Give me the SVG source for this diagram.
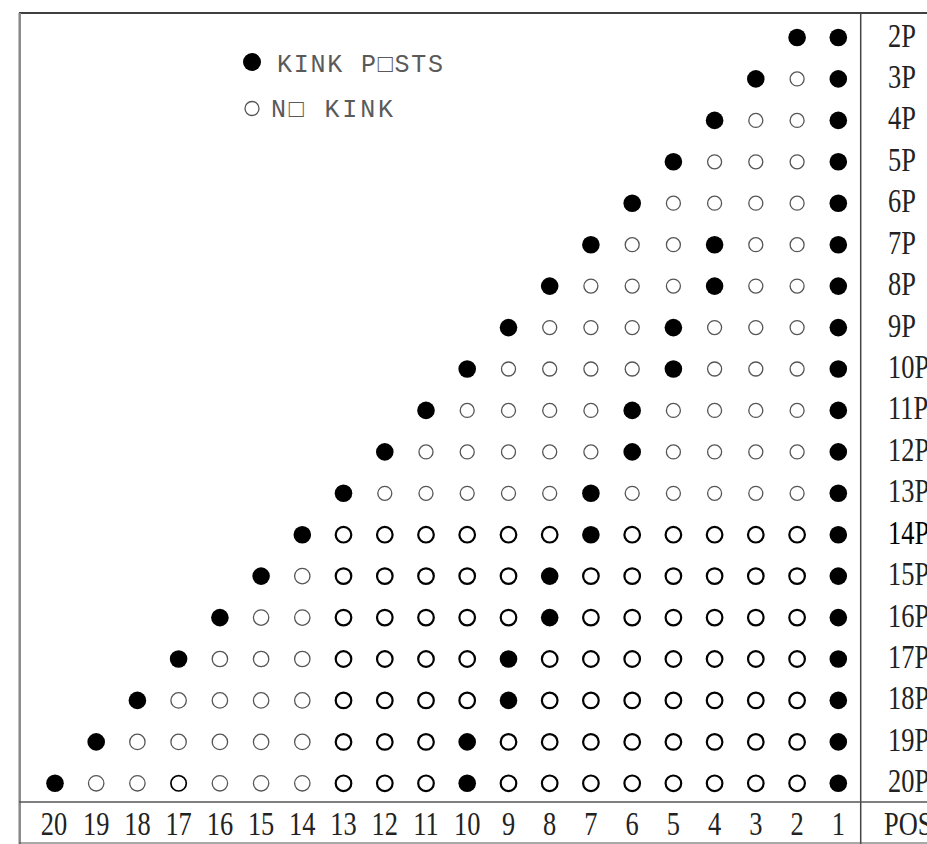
<svg xmlns="http://www.w3.org/2000/svg" width="927" height="844" viewBox="0 0 927 844">
<style>
.f{fill:#000}
.t{fill:none;stroke:#555;stroke-width:1.3}
.k{fill:none;stroke:#000;stroke-width:2.2}
.lab{font-family:"Liberation Serif","Times New Roman",serif;font-size:33px;fill:#222}
.num{font-family:"Liberation Serif","Times New Roman",serif;font-size:33px;fill:#222;text-anchor:middle}
.leg{font-family:"Liberation Mono","DejaVu Sans Mono",monospace;font-size:25px;fill:#5a5a5a}
.frame{stroke:#000;fill:none}
</style>
<rect width="927" height="844" fill="#fff"/>
<g id="frame">
<line x1="19" y1="13" x2="927" y2="13" class="frame" stroke-width="1.4"/>
<line x1="19.7" y1="13" x2="19.7" y2="844" stroke="#888" stroke-width="2.5"/>
<line x1="860.7" y1="13" x2="860.7" y2="844" stroke="#444" stroke-width="1.5"/>
<line x1="19" y1="802" x2="927" y2="802" stroke="#555" stroke-width="1.5"/>
<line x1="19" y1="843" x2="927" y2="843" stroke="#555" stroke-width="1.2"/>
</g>
<g id="legend">
<circle cx="252" cy="62" r="9" class="f"/>
<text class="leg" x="277" y="71.5" textLength="166" lengthAdjust="spacing">KINK P□STS</text>
<circle cx="252" cy="108.5" r="7" class="t"/>
<text class="leg" x="271" y="117" textLength="122" lengthAdjust="spacing">N□ KINK</text>
</g>
<g id="row2"><circle cx="838.3" cy="37.5" r="8.8" class="f"/><circle cx="797.1" cy="37.5" r="8.8" class="f"/></g>
<g id="row3"><circle cx="838.3" cy="78.9" r="8.8" class="f"/><circle cx="797.1" cy="78.9" r="7" class="t"/><circle cx="755.8" cy="78.9" r="8.8" class="f"/></g>
<g id="row4"><circle cx="838.3" cy="120.4" r="8.8" class="f"/><circle cx="797.1" cy="120.4" r="7" class="t"/><circle cx="755.8" cy="120.4" r="7" class="t"/><circle cx="714.6" cy="120.4" r="8.8" class="f"/></g>
<g id="row5"><circle cx="838.3" cy="161.8" r="8.8" class="f"/><circle cx="797.1" cy="161.8" r="7" class="t"/><circle cx="755.8" cy="161.8" r="7" class="t"/><circle cx="714.6" cy="161.8" r="7" class="t"/><circle cx="673.4" cy="161.8" r="8.8" class="f"/></g>
<g id="row6"><circle cx="838.3" cy="203.2" r="8.8" class="f"/><circle cx="797.1" cy="203.2" r="7" class="t"/><circle cx="755.8" cy="203.2" r="7" class="t"/><circle cx="714.6" cy="203.2" r="7" class="t"/><circle cx="673.4" cy="203.2" r="7" class="t"/><circle cx="632.2" cy="203.2" r="8.8" class="f"/></g>
<g id="row7"><circle cx="838.3" cy="244.7" r="8.8" class="f"/><circle cx="797.1" cy="244.7" r="7" class="t"/><circle cx="755.8" cy="244.7" r="7" class="t"/><circle cx="714.6" cy="244.7" r="8.8" class="f"/><circle cx="673.4" cy="244.7" r="7" class="t"/><circle cx="632.2" cy="244.7" r="7" class="t"/><circle cx="590.9" cy="244.7" r="8.8" class="f"/></g>
<g id="row8"><circle cx="838.3" cy="286.1" r="8.8" class="f"/><circle cx="797.1" cy="286.1" r="7" class="t"/><circle cx="755.8" cy="286.1" r="7" class="t"/><circle cx="714.6" cy="286.1" r="8.8" class="f"/><circle cx="673.4" cy="286.1" r="7" class="t"/><circle cx="632.2" cy="286.1" r="7" class="t"/><circle cx="590.9" cy="286.1" r="7" class="t"/><circle cx="549.7" cy="286.1" r="8.8" class="f"/></g>
<g id="row9"><circle cx="838.3" cy="327.6" r="8.8" class="f"/><circle cx="797.1" cy="327.6" r="7" class="t"/><circle cx="755.8" cy="327.6" r="7" class="t"/><circle cx="714.6" cy="327.6" r="7" class="t"/><circle cx="673.4" cy="327.6" r="8.8" class="f"/><circle cx="632.2" cy="327.6" r="7" class="t"/><circle cx="590.9" cy="327.6" r="7" class="t"/><circle cx="549.7" cy="327.6" r="7" class="t"/><circle cx="508.5" cy="327.6" r="8.8" class="f"/></g>
<g id="row10"><circle cx="838.3" cy="369" r="8.8" class="f"/><circle cx="797.1" cy="369" r="7" class="t"/><circle cx="755.8" cy="369" r="7" class="t"/><circle cx="714.6" cy="369" r="7" class="t"/><circle cx="673.4" cy="369" r="8.8" class="f"/><circle cx="632.2" cy="369" r="7" class="t"/><circle cx="590.9" cy="369" r="7" class="t"/><circle cx="549.7" cy="369" r="7" class="t"/><circle cx="508.5" cy="369" r="7" class="t"/><circle cx="467.2" cy="369" r="8.8" class="f"/></g>
<g id="row11"><circle cx="838.3" cy="410.4" r="8.8" class="f"/><circle cx="797.1" cy="410.4" r="7" class="t"/><circle cx="755.8" cy="410.4" r="7" class="t"/><circle cx="714.6" cy="410.4" r="7" class="t"/><circle cx="673.4" cy="410.4" r="7" class="t"/><circle cx="632.2" cy="410.4" r="8.8" class="f"/><circle cx="590.9" cy="410.4" r="7" class="t"/><circle cx="549.7" cy="410.4" r="7" class="t"/><circle cx="508.5" cy="410.4" r="7" class="t"/><circle cx="467.2" cy="410.4" r="7" class="t"/><circle cx="426" cy="410.4" r="8.8" class="f"/></g>
<g id="row12"><circle cx="838.3" cy="451.9" r="8.8" class="f"/><circle cx="797.1" cy="451.9" r="7" class="t"/><circle cx="755.8" cy="451.9" r="7" class="t"/><circle cx="714.6" cy="451.9" r="7" class="t"/><circle cx="673.4" cy="451.9" r="7" class="t"/><circle cx="632.2" cy="451.9" r="8.8" class="f"/><circle cx="590.9" cy="451.9" r="7" class="t"/><circle cx="549.7" cy="451.9" r="7" class="t"/><circle cx="508.5" cy="451.9" r="7" class="t"/><circle cx="467.2" cy="451.9" r="7" class="t"/><circle cx="426" cy="451.9" r="7" class="t"/><circle cx="384.8" cy="451.9" r="8.8" class="f"/></g>
<g id="row13"><circle cx="838.3" cy="493.3" r="8.8" class="f"/><circle cx="797.1" cy="493.3" r="7" class="t"/><circle cx="755.8" cy="493.3" r="7" class="t"/><circle cx="714.6" cy="493.3" r="7" class="t"/><circle cx="673.4" cy="493.3" r="7" class="t"/><circle cx="632.2" cy="493.3" r="7" class="t"/><circle cx="590.9" cy="493.3" r="8.8" class="f"/><circle cx="549.7" cy="493.3" r="7" class="t"/><circle cx="508.5" cy="493.3" r="7" class="t"/><circle cx="467.2" cy="493.3" r="7" class="t"/><circle cx="426" cy="493.3" r="7" class="t"/><circle cx="384.8" cy="493.3" r="7" class="t"/><circle cx="343.5" cy="493.3" r="8.8" class="f"/></g>
<g id="row14"><circle cx="838.3" cy="534.7" r="8.8" class="f"/><circle cx="797.1" cy="534.7" r="7.8" class="k"/><circle cx="755.8" cy="534.7" r="7.8" class="k"/><circle cx="714.6" cy="534.7" r="7.8" class="k"/><circle cx="673.4" cy="534.7" r="7.8" class="k"/><circle cx="632.2" cy="534.7" r="7.8" class="k"/><circle cx="590.9" cy="534.7" r="8.8" class="f"/><circle cx="549.7" cy="534.7" r="7.8" class="k"/><circle cx="508.5" cy="534.7" r="7.8" class="k"/><circle cx="467.2" cy="534.7" r="7.8" class="k"/><circle cx="426" cy="534.7" r="7.8" class="k"/><circle cx="384.8" cy="534.7" r="7.8" class="k"/><circle cx="343.5" cy="534.7" r="7.8" class="k"/><circle cx="302.3" cy="534.7" r="8.8" class="f"/></g>
<g id="row15"><circle cx="838.3" cy="576.1" r="8.8" class="f"/><circle cx="797.1" cy="576.1" r="7.8" class="k"/><circle cx="755.8" cy="576.1" r="7.8" class="k"/><circle cx="714.6" cy="576.1" r="7.8" class="k"/><circle cx="673.4" cy="576.1" r="7.8" class="k"/><circle cx="632.2" cy="576.1" r="7.8" class="k"/><circle cx="590.9" cy="576.1" r="7.8" class="k"/><circle cx="549.7" cy="576.1" r="8.8" class="f"/><circle cx="508.5" cy="576.1" r="7.8" class="k"/><circle cx="467.2" cy="576.1" r="7.8" class="k"/><circle cx="426" cy="576.1" r="7.8" class="k"/><circle cx="384.8" cy="576.1" r="7.8" class="k"/><circle cx="343.5" cy="576.1" r="7.8" class="k"/><circle cx="302.3" cy="576.1" r="7.7" class="t"/><circle cx="261.1" cy="576.1" r="8.8" class="f"/></g>
<g id="row16"><circle cx="838.3" cy="617.6" r="8.8" class="f"/><circle cx="797.1" cy="617.6" r="7.8" class="k"/><circle cx="755.8" cy="617.6" r="7.8" class="k"/><circle cx="714.6" cy="617.6" r="7.8" class="k"/><circle cx="673.4" cy="617.6" r="7.8" class="k"/><circle cx="632.2" cy="617.6" r="7.8" class="k"/><circle cx="590.9" cy="617.6" r="7.8" class="k"/><circle cx="549.7" cy="617.6" r="8.8" class="f"/><circle cx="508.5" cy="617.6" r="7.8" class="k"/><circle cx="467.2" cy="617.6" r="7.8" class="k"/><circle cx="426" cy="617.6" r="7.8" class="k"/><circle cx="384.8" cy="617.6" r="7.8" class="k"/><circle cx="343.5" cy="617.6" r="7.8" class="k"/><circle cx="302.3" cy="617.6" r="7.7" class="t"/><circle cx="261.1" cy="617.6" r="7.7" class="t"/><circle cx="219.9" cy="617.6" r="8.8" class="f"/></g>
<g id="row17"><circle cx="838.3" cy="659" r="8.8" class="f"/><circle cx="797.1" cy="659" r="7.8" class="k"/><circle cx="755.8" cy="659" r="7.8" class="k"/><circle cx="714.6" cy="659" r="7.8" class="k"/><circle cx="673.4" cy="659" r="7.8" class="k"/><circle cx="632.2" cy="659" r="7.8" class="k"/><circle cx="590.9" cy="659" r="7.8" class="k"/><circle cx="549.7" cy="659" r="7.8" class="k"/><circle cx="508.5" cy="659" r="8.8" class="f"/><circle cx="467.2" cy="659" r="7.8" class="k"/><circle cx="426" cy="659" r="7.8" class="k"/><circle cx="384.8" cy="659" r="7.8" class="k"/><circle cx="343.5" cy="659" r="7.8" class="k"/><circle cx="302.3" cy="659" r="7.7" class="t"/><circle cx="261.1" cy="659" r="7.7" class="t"/><circle cx="219.9" cy="659" r="7.7" class="t"/><circle cx="178.6" cy="659" r="8.8" class="f"/></g>
<g id="row18"><circle cx="838.3" cy="700.4" r="8.8" class="f"/><circle cx="797.1" cy="700.4" r="7.8" class="k"/><circle cx="755.8" cy="700.4" r="7.8" class="k"/><circle cx="714.6" cy="700.4" r="7.8" class="k"/><circle cx="673.4" cy="700.4" r="7.8" class="k"/><circle cx="632.2" cy="700.4" r="7.8" class="k"/><circle cx="590.9" cy="700.4" r="7.8" class="k"/><circle cx="549.7" cy="700.4" r="7.8" class="k"/><circle cx="508.5" cy="700.4" r="8.8" class="f"/><circle cx="467.2" cy="700.4" r="7.8" class="k"/><circle cx="426" cy="700.4" r="7.8" class="k"/><circle cx="384.8" cy="700.4" r="7.8" class="k"/><circle cx="343.5" cy="700.4" r="7.8" class="k"/><circle cx="302.3" cy="700.4" r="7.7" class="t"/><circle cx="261.1" cy="700.4" r="7.7" class="t"/><circle cx="219.9" cy="700.4" r="7.7" class="t"/><circle cx="178.6" cy="700.4" r="7.7" class="t"/><circle cx="137.4" cy="700.4" r="8.8" class="f"/></g>
<g id="row19"><circle cx="838.3" cy="741.9" r="8.8" class="f"/><circle cx="797.1" cy="741.9" r="7.8" class="k"/><circle cx="755.8" cy="741.9" r="7.8" class="k"/><circle cx="714.6" cy="741.9" r="7.8" class="k"/><circle cx="673.4" cy="741.9" r="7.8" class="k"/><circle cx="632.2" cy="741.9" r="7.8" class="k"/><circle cx="590.9" cy="741.9" r="7.8" class="k"/><circle cx="549.7" cy="741.9" r="7.8" class="k"/><circle cx="508.5" cy="741.9" r="7.8" class="k"/><circle cx="467.2" cy="741.9" r="8.8" class="f"/><circle cx="426" cy="741.9" r="7.8" class="k"/><circle cx="384.8" cy="741.9" r="7.8" class="k"/><circle cx="343.5" cy="741.9" r="7.8" class="k"/><circle cx="302.3" cy="741.9" r="7.7" class="t"/><circle cx="261.1" cy="741.9" r="7.7" class="t"/><circle cx="219.9" cy="741.9" r="7.7" class="t"/><circle cx="178.6" cy="741.9" r="7.7" class="t"/><circle cx="137.4" cy="741.9" r="7.7" class="t"/><circle cx="96.2" cy="741.9" r="8.8" class="f"/></g>
<g id="row20"><circle cx="838.3" cy="783.3" r="8.8" class="f"/><circle cx="797.1" cy="783.3" r="7.8" class="k"/><circle cx="755.8" cy="783.3" r="7.8" class="k"/><circle cx="714.6" cy="783.3" r="7.8" class="k"/><circle cx="673.4" cy="783.3" r="7.8" class="k"/><circle cx="632.2" cy="783.3" r="7.8" class="k"/><circle cx="590.9" cy="783.3" r="7.8" class="k"/><circle cx="549.7" cy="783.3" r="7.8" class="k"/><circle cx="508.5" cy="783.3" r="7.8" class="k"/><circle cx="467.2" cy="783.3" r="8.8" class="f"/><circle cx="426" cy="783.3" r="7.8" class="k"/><circle cx="384.8" cy="783.3" r="7.8" class="k"/><circle cx="343.5" cy="783.3" r="7.8" class="k"/><circle cx="302.3" cy="783.3" r="7.7" class="t"/><circle cx="261.1" cy="783.3" r="7.7" class="t"/><circle cx="219.9" cy="783.3" r="7.7" class="t"/><circle cx="178.6" cy="783.3" r="7.7" class="k" style="stroke-width:1.7"/><circle cx="137.4" cy="783.3" r="7.7" class="t"/><circle cx="96.2" cy="783.3" r="7.7" class="t"/><circle cx="55" cy="783.3" r="8.8" class="f"/></g>
<g id="row-labels">
<text class="lab" transform="translate(888,46.5) scale(0.8,1)">2P</text>
<text class="lab" transform="translate(888,87.9) scale(0.8,1)">3P</text>
<text class="lab" transform="translate(888,129.4) scale(0.8,1)">4P</text>
<text class="lab" transform="translate(888,170.8) scale(0.8,1)">5P</text>
<text class="lab" transform="translate(888,212.2) scale(0.8,1)">6P</text>
<text class="lab" transform="translate(888,253.7) scale(0.8,1)">7P</text>
<text class="lab" transform="translate(888,295.1) scale(0.8,1)">8P</text>
<text class="lab" transform="translate(888,336.6) scale(0.8,1)">9P</text>
<text class="lab" transform="translate(888,378) scale(0.8,1)">10P</text>
<text class="lab" transform="translate(888,419.4) scale(0.8,1)">11P</text>
<text class="lab" transform="translate(888,460.9) scale(0.8,1)">12P</text>
<text class="lab" transform="translate(888,502.3) scale(0.8,1)">13P</text>
<text class="lab" transform="translate(888,543.7) scale(0.8,1)" style="fill:#000">14P</text>
<text class="lab" transform="translate(888,585.1) scale(0.8,1)">15P</text>
<text class="lab" transform="translate(888,626.6) scale(0.8,1)">16P</text>
<text class="lab" transform="translate(888,668) scale(0.8,1)">17P</text>
<text class="lab" transform="translate(888,709.4) scale(0.8,1)">18P</text>
<text class="lab" transform="translate(888,750.9) scale(0.8,1)">19P</text>
<text class="lab" transform="translate(888,792.3) scale(0.8,1)">20P</text>
</g>
<g id="axis">
<text class="num" transform="translate(838.3,835) scale(0.8,1)">1</text>
<text class="num" transform="translate(797.1,835) scale(0.8,1)">2</text>
<text class="num" transform="translate(755.8,835) scale(0.8,1)">3</text>
<text class="num" transform="translate(714.6,835) scale(0.8,1)">4</text>
<text class="num" transform="translate(673.4,835) scale(0.8,1)">5</text>
<text class="num" transform="translate(632.2,835) scale(0.8,1)">6</text>
<text class="num" transform="translate(590.9,835) scale(0.8,1)">7</text>
<text class="num" transform="translate(549.7,835) scale(0.8,1)">8</text>
<text class="num" transform="translate(508.5,835) scale(0.8,1)">9</text>
<text class="num" transform="translate(467.2,835) scale(0.8,1)">10</text>
<text class="num" transform="translate(426,835) scale(0.8,1)">11</text>
<text class="num" transform="translate(384.8,835) scale(0.8,1)">12</text>
<text class="num" transform="translate(343.5,835) scale(0.8,1)">13</text>
<text class="num" transform="translate(302.3,835) scale(0.8,1)">14</text>
<text class="num" transform="translate(261.1,835) scale(0.8,1)">15</text>
<text class="num" transform="translate(219.9,835) scale(0.8,1)">16</text>
<text class="num" transform="translate(178.6,835) scale(0.8,1)">17</text>
<text class="num" transform="translate(137.4,835) scale(0.8,1)">18</text>
<text class="num" transform="translate(96.2,835) scale(0.8,1)">19</text>
<text class="num" transform="translate(54,835) scale(0.8,1)">20</text>
<text class="lab" transform="translate(884,835) scale(0.8,1)">POS</text>
</g>
</svg>
